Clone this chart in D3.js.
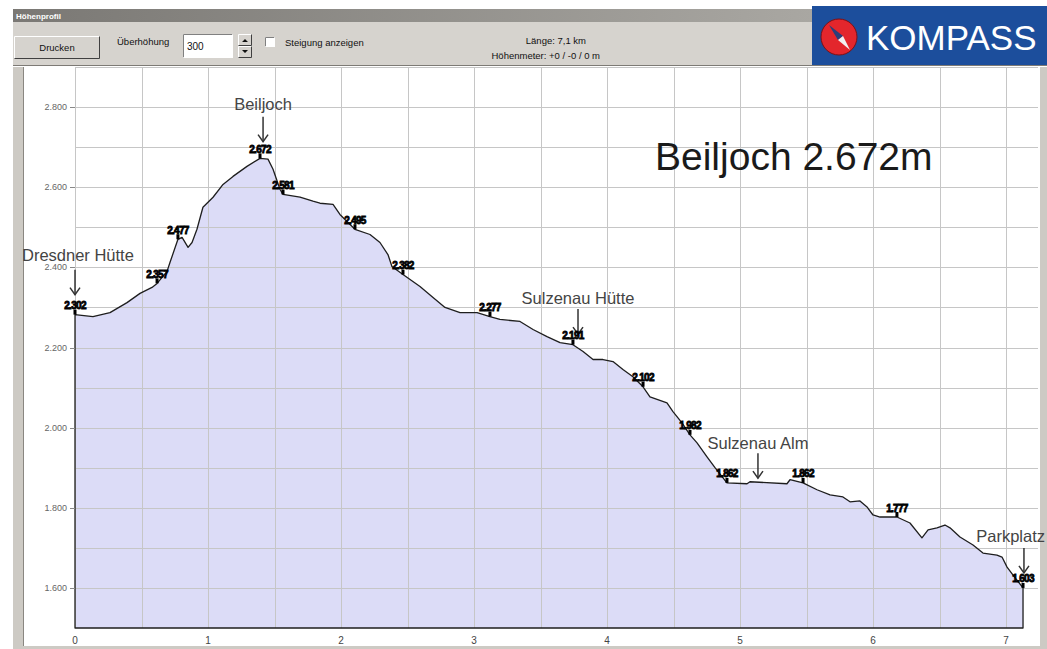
<!DOCTYPE html>
<html><head><meta charset="utf-8">
<script src="https://cdn.jsdelivr.net/npm/d3@7"></script>
<style>
body{margin:0;background:#fff;}
svg{display:block;font-family:"Liberation Sans",Arial,sans-serif;}
</style>
</head><body>
<svg id="c" width="1047" height="649"></svg>
<script>
// ---------- DATA ----------
const distanceKm = [0,0.135,0.263,0.391,0.489,0.579,0.617,0.692,0.714,0.774,0.805,0.85,0.88,0.917,0.962,1.038,1.113,1.188,1.293,1.391,1.451,1.489,1.541,1.564,1.692,1.789,1.842,1.94,1.992,2.068,2.105,2.218,2.293,2.353,2.383,2.466,2.594,2.692,2.782,2.895,3.023,3.12,3.195,3.346,3.444,3.549,3.647,3.744,3.82,3.895,3.97,4.045,4.12,4.195,4.271,4.323,4.451,4.496,4.564,4.624,4.677,4.752,4.812,4.902,5.053,5.075,5.353,5.376,5.474,5.579,5.677,5.774,5.827,5.902,5.955,6.0,6.053,6.18,6.278,6.368,6.414,6.481,6.541,6.579,6.654,6.752,6.827,6.932,6.97,7.008,7.053,7.128];
const elevationM = [2282,2277,2287,2312,2335,2350,2360,2390,2412,2470,2475,2450,2462,2495,2550,2575,2607,2627,2652,2672,2670,2645,2595,2582,2575,2565,2560,2557,2532,2507,2495,2482,2462,2432,2402,2382,2352,2325,2300,2287,2287,2277,2270,2265,2245,2227,2212,2207,2190,2170,2170,2165,2145,2127,2102,2077,2062,2040,2012,1982,1962,1927,1900,1862,1860,1865,1860,1870,1862,1845,1832,1827,1815,1817,1802,1782,1777,1777,1762,1725,1745,1750,1757,1750,1727,1707,1687,1682,1677,1652,1632,1600];

const markerKm   = [0,0.617,0.774,1.391,1.564,2.105,2.466,3.12,3.744,4.271,4.624,4.902,5.474,6.18,7.128];
const markerElev = [2302,2357,2477,2672,2581,2495,2382,2277,2191,2102,1982,1862,1862,1777,1603];

const placeNames = ["Dresdner Hütte","Beiljoch","Sulzenau Hütte","Sulzenau Alm","Parkplatz"];
const placeKm    = [0,1.414,3.782,5.135,7.135];

const xTicks = [0,1,2,3,4,5,6,7];
const xGrid  = [0,0.5,1,1.5,2,2.5,3,3.5,4,4.5,5,5.5,6,6.5,7];
const yTicks = [1600,1800,2000,2200,2400,2600,2800];
const yGrid  = [1600,1700,1800,1900,2000,2100,2200,2300,2400,2500,2600,2700,2800,2900];
const headline = "Beiljoch 2.672m";
const windowTitle = "Höhenprofil";
const lengthText = "Länge: 7,1 km";
const climbText = "Höhenmeter: +0 / -0 / 0 m";

// ---------- LAYOUT ----------
const L = 75, R = 1038, T = 67, B = 628;
const placeLift = [20,17,14,4,15];
const textGap = [9,7,5,4,6];

const svg = d3.select("#c");
const x = d3.scaleLinear().domain([0,7]).range([L,1006]);
const y = d3.scaleLinear().domain([1500,2900]).range([B,T]);
const loc = d3.formatLocale({decimal:",",thousands:".",grouping:[3],currency:["","€"]});
const fmt = loc.format(",");

const profile = distanceKm.map((d,i)=>({km:d, e:elevationM[i]}));
const bis = d3.bisector(d=>d.km).left;
function elevAt(km){
  const i = Math.max(1, Math.min(profile.length-1, bis(profile, km)));
  const a = profile[i-1], b = profile[i];
  const t = (km - a.km)/(b.km - a.km);
  return a.e + Math.max(0,Math.min(1,t))*(b.e - a.e);
}

// ---------- FRAME ----------
svg.append("rect").attr("width",1047).attr("height",649).attr("fill","#fff");
svg.append("rect").attr("x",13).attr("y",9).attr("width",1034).attr("height",58).attr("fill","#d6d3ce");
const defs = svg.append("defs");
const g1 = defs.append("linearGradient").attr("id","tb");
g1.append("stop").attr("offset","0").attr("stop-color","#7a7874");
g1.append("stop").attr("offset","1").attr("stop-color","#a9a7a2");
svg.append("rect").attr("x",13).attr("y",9).attr("width",800).attr("height",13).attr("fill","url(#tb)");
svg.append("text").attr("x",16).attr("y",19).attr("font-size",8).attr("font-weight","bold").attr("fill","#fff").text(windowTitle);
svg.append("line").attr("x1",13).attr("x2",1047).attr("y1",65.5).attr("y2",65.5).attr("stroke","#7d7a75");
svg.append("line").attr("x1",13).attr("x2",1047).attr("y1",66.5).attr("y2",66.5).attr("stroke","#fff");
svg.append("rect").attr("x",13).attr("y",67).attr("width",11).attr("height",582).attr("fill","#cdcac4");
svg.append("line").attr("x1",23.5).attr("x2",23.5).attr("y1",67).attr("y2",649).attr("stroke","#8a8781");
svg.append("rect").attr("x",1040).attr("y",67).attr("width",7).attr("height",582).attr("fill","#cdcac4");
svg.append("rect").attr("x",13).attr("y",646).attr("width",1034).attr("height",3).attr("fill","#cdcac4");

function bevel(x0,y0,w,h,raised){
  svg.append("rect").attr("x",x0).attr("y",y0).attr("width",w).attr("height",h)
     .attr("fill", raised ? "#d6d3ce" : "#fff");
  const lt = raised ? "#fff" : "#808080", dk = raised ? "#404040" : "#fff";
  svg.append("path").attr("d",`M${x0+0.5},${y0+h-0.5}V${y0+0.5}H${x0+w-0.5}`).attr("fill","none").attr("stroke",lt);
  svg.append("path").attr("d",`M${x0+0.5},${y0+h-0.5}H${x0+w-0.5}V${y0+0.5}`).attr("fill","none").attr("stroke",dk);
}
bevel(14,36,86,23,true);
svg.append("text").attr("x",57).attr("y",51).attr("text-anchor","middle").attr("font-size",9.5).attr("fill","#111").text("Drucken");
svg.append("text").attr("x",117).attr("y",45).attr("font-size",9.5).attr("fill","#111").text("Überhöhung");
bevel(183,34,50,24,false);
svg.append("text").attr("x",187).attr("y",50).attr("font-size",10).attr("fill","#111").text("300");
bevel(238,34,14,12,true); bevel(238,46,14,12,true);
svg.append("path").attr("d","M242,42h6l-3,-3z M242,50h6l-3,3z").attr("fill","#111");
bevel(265,37,10,10,false);
svg.append("text").attr("x",285).attr("y",46).attr("font-size",9.5).attr("fill","#111").text("Steigung anzeigen");
svg.append("text").attr("x",586).attr("y",44).attr("text-anchor","end").attr("font-size",9.5).attr("fill","#111").text(lengthText);
svg.append("text").attr("x",600).attr("y",59).attr("text-anchor","end").attr("font-size",9.5).attr("fill","#111").text(climbText);

// KOMPASS logo
svg.append("rect").attr("x",812).attr("y",6).attr("width",235).attr("height",59).attr("fill","#1c4e9c");
svg.append("circle").attr("cx",839).attr("cy",37).attr("r",18).attr("fill","#e3262c").attr("stroke","#7a1015").attr("stroke-width",1);
svg.append("path").attr("d","M829,25 L843,36 L838,40 Z").attr("fill","#2a3f7a");
svg.append("path").attr("d","M843,36 L850,50 L838,40 Z").attr("fill","#f2f2f2");
svg.append("text").attr("x",866).attr("y",50).attr("font-size",35).attr("fill","#fff").text("KOMPASS");

// ---------- PLOT ----------
const area = d3.area().x(d=>x(d.km)).y0(y(1500)).y1(d=>y(d.e));
svg.append("path").datum(profile).attr("d",area).attr("fill","#dcdcf7");

svg.append("g").selectAll("line").data(yGrid).join("line")
  .attr("x1",L).attr("x2",R).attr("y1",d=>Math.round(y(d))+0.5).attr("y2",d=>Math.round(y(d))+0.5)
  .attr("stroke","#c6c6c6");
svg.append("g").selectAll("line").data(xGrid).join("line")
  .attr("x1",d=>Math.round(x(d))+0.5).attr("x2",d=>Math.round(x(d))+0.5).attr("y1",T).attr("y2",B)
  .attr("stroke","#c6c6c6");

svg.append("path").datum(profile).attr("d",area).attr("fill","none").attr("stroke","#1e1e1e").attr("stroke-width",1.3).attr("stroke-linejoin","round");

const yax = svg.append("g");
yax.selectAll("text").data(yTicks).join("text")
  .attr("x",67).attr("y",d=>y(d)+3).attr("text-anchor","end").attr("font-size",9).attr("fill","#666").text(d=>fmt(d));
yax.selectAll("line").data(yTicks).join("line")
  .attr("x1",70).attr("x2",75).attr("y1",d=>Math.round(y(d))+0.5).attr("y2",d=>Math.round(y(d))+0.5).attr("stroke","#888");
svg.append("g").selectAll("text").data(xTicks).join("text")
  .attr("x",d=>x(d)).attr("y",644).attr("text-anchor","middle").attr("font-size",10).attr("fill","#444").text(d=>d);

svg.append("text").attr("x",655).attr("y",170).attr("font-size",39).attr("fill","#1a1a1a").text(headline);

placeNames.forEach((name,i)=>{
  const px = x(placeKm[i]);
  const tip = y(elevAt(placeKm[i])) - placeLift[i];
  const top = tip - 25;
  svg.append("line").attr("x1",px).attr("x2",px).attr("y1",top).attr("y2",tip).attr("stroke","#333").attr("stroke-width",1.5);
  svg.append("path").attr("d",`M${px-5},${tip-7}L${px},${tip}L${px+5},${tip-7}`).attr("fill","none").attr("stroke","#333").attr("stroke-width",1.5);
  const t = svg.append("text").attr("x",px).attr("y",top-textGap[i]).attr("text-anchor","middle")
    .attr("font-size",16.5).attr("fill","#444").text(name);
  const bb = t.node().getBBox();
  let shift = 0;
  if (bb.x < 22) shift = 22 - bb.x;
  if (bb.x + bb.width > 1045) shift = 1045 - (bb.x + bb.width);
  t.attr("x", px + shift);
});

markerKm.forEach((km,i)=>{
  const px = x(km), py = y(elevAt(km));
  svg.append("rect").attr("x",px-1.5).attr("y",py-5).attr("width",3).attr("height",5).attr("fill","#000");
  svg.append("text").attr("x",px).attr("y",py-5.5).attr("text-anchor","middle")
    .attr("font-size",10).attr("font-weight","bold").attr("letter-spacing",-0.7)
    .attr("fill","#000").attr("stroke","#000").attr("stroke-width",0.8).text(fmt(markerElev[i]));
});
</script>
</body></html>
